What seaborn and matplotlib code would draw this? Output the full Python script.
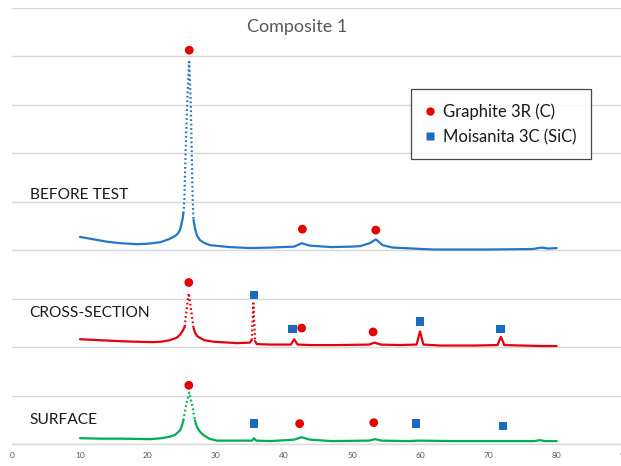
import matplotlib
matplotlib.use("Agg")
import matplotlib.pyplot as plt
import seaborn as sns
from matplotlib.lines import Line2D

# ---- diffraction profiles (2θ in degrees, offset intensity in grid units) ----
# BEFORE TEST
before_x_left = [10, 12, 14, 16, 18.4, 20, 21.8, 23.2, 24.0, 24.4, 24.7, 24.9, 25.1, 25.2]
before_y_left = [4.27, 4.22, 4.17, 4.14, 4.12, 4.13, 4.16, 4.23, 4.29, 4.34, 4.41, 4.52, 4.65, 4.76]
before_x_peak = [25.2, 25.35, 25.54, 25.78, 26.05, 26.28, 26.42, 26.57, 26.7]
before_y_peak = [4.76, 5.04, 6.07, 7.09, 7.88, 7.09, 6.07, 5.04, 4.62]
before_x_right = [26.7, 26.9, 27.2, 27.6, 28.2, 29.1, 32.0, 35.0, 38, 41.5, 42.6, 43.8, 47.0,
                  50, 51.2, 52.6, 53.5, 54.5, 56.0, 62.0, 70, 76.6, 77.9, 78.8, 80.1]
before_y_right = [4.62, 4.45, 4.30, 4.21, 4.15, 4.10, 4.06, 4.04, 4.05, 4.07, 4.14, 4.09, 4.06,
                  4.07, 4.08, 4.14, 4.22, 4.10, 4.05, 4.01, 4.01, 4.02, 4.05, 4.03, 4.04]

# CROSS-SECTION
cross_x_left = [10, 13, 15.9, 18, 20.7, 22, 23.2, 24.2, 24.7, 25.0, 25.2, 25.4]
cross_y_left = [2.16, 2.14, 2.12, 2.11, 2.10, 2.11, 2.14, 2.19, 2.25, 2.31, 2.36, 2.42]
cross_x_peak1 = [25.4, 25.7, 26.0, 26.3, 26.7]
cross_y_peak1 = [2.42, 2.80, 3.11, 2.80, 2.39]
cross_x_mid = [26.7, 26.9, 27.2, 27.6, 28.3, 29.6, 33.1, 35.0, 35.25]
cross_y_mid = [2.39, 2.30, 2.23, 2.19, 2.14, 2.11, 2.08, 2.09, 2.14]
cross_x_peak2 = [35.25, 35.5, 35.75]
cross_y_peak2 = [2.14, 2.90, 2.12]
cross_x_right = [35.75, 36.0, 38, 41.0, 41.5, 42.0, 44, 48, 52.5, 53.3, 54.2, 57, 59.5,
                 60.0, 60.5, 63, 68, 71.4, 71.9, 72.4, 75, 78, 80.1]
cross_y_right = [2.12, 2.06, 2.05, 2.05, 2.16, 2.05, 2.04, 2.04, 2.05, 2.09, 2.05, 2.04, 2.05,
                 2.32, 2.05, 2.03, 2.03, 2.04, 2.21, 2.04, 2.03, 2.02, 2.02]

# SURFACE
surf_x_left = [10, 13, 16, 20.3, 22, 23.2, 24.0, 24.7, 25.0, 25.2]
surf_y_left = [0.12, 0.11, 0.11, 0.10, 0.12, 0.15, 0.19, 0.28, 0.38, 0.49]
surf_x_peak = [25.2, 25.6, 26.07, 26.5, 26.9]
surf_y_peak = [0.49, 0.80, 1.06, 0.80, 0.49]
surf_x_right = [26.9, 27.2, 27.6, 28.1, 29.0, 30.1, 33, 35.3, 35.6, 35.9, 38, 41.5, 42.6,
                43.8, 47, 52.5, 53.4, 54.3, 58, 60, 65, 72, 76.8, 77.6, 78.4, 80.1]
surf_y_right = [0.49, 0.35, 0.26, 0.19, 0.11, 0.07, 0.07, 0.07, 0.12, 0.07, 0.06, 0.09, 0.14,
                0.09, 0.06, 0.07, 0.10, 0.07, 0.06, 0.07, 0.06, 0.06, 0.06, 0.08, 0.06, 0.06]

# ---- phase markers ----
graphite_x = [26.07, 42.7, 53.5, 26.0, 42.6, 53.1, 26.0, 42.3, 53.2]
graphite_y = [8.12, 4.43, 4.41, 3.33, 2.39, 2.31, 1.21, 0.42, 0.44]
sic_x = [35.6, 41.2, 60.0, 71.8, 35.6, 59.4, 72.2]
sic_y = [3.07, 2.37, 2.52, 2.37, 0.43, 0.43, 0.37]

sample_labels = ["BEFORE TEST", "CROSS-SECTION", "SURFACE"]
sample_label_y = [5.14, 2.71, 0.49]
legend_labels = ["Graphite 3R (C)", "Moisanita 3C (SiC)"]
x_ticks = list(range(0, 100, 10))

BLUE = "#2277C9"
RED = "#E8000B"
GREEN = "#00B050"
DOT_RED = "#E60000"
SQ_BLUE = "#1A6AC0"
GRID = "#D9D9D9"
TXT = "#595959"

sns.set_style("white")
plt.rcParams["font.family"] = ["Lato", "DejaVu Sans"]

fig = plt.figure(figsize=(6.21, 4.66), dpi=100)
ax = fig.add_axes([12 / 621, 22 / 466, 612 / 621, 436.5 / 466])


def draw_solid(xs, ys, color):
    sns.lineplot(x=xs, y=ys, color=color, linewidth=1.6, legend=False, ax=ax,
                 estimator=None, sort=False)


def draw_dotted(xs, ys, color):
    sns.lineplot(x=xs, y=ys, color=color, linestyle=(0, (0.8, 1.2)),
                 linewidth=1.6, legend=False, ax=ax, estimator=None, sort=False)


draw_solid(before_x_left, before_y_left, BLUE)
draw_dotted(before_x_peak, before_y_peak, BLUE)
draw_solid(before_x_right, before_y_right, BLUE)

draw_solid(cross_x_left, cross_y_left, RED)
draw_dotted(cross_x_peak1, cross_y_peak1, RED)
draw_solid(cross_x_mid, cross_y_mid, RED)
draw_dotted(cross_x_peak2, cross_y_peak2, RED)
draw_solid(cross_x_right, cross_y_right, RED)

draw_solid(surf_x_left, surf_y_left, GREEN)
draw_dotted(surf_x_peak, surf_y_peak, GREEN)
draw_solid(surf_x_right, surf_y_right, GREEN)

sns.scatterplot(x=graphite_x, y=graphite_y, color=DOT_RED, marker="o", s=40,
                edgecolor="none", ax=ax, legend=False, zorder=5)
sns.scatterplot(x=sic_x, y=sic_y, color=SQ_BLUE, marker="s", s=40,
                edgecolor="none", ax=ax, legend=False, zorder=5)

for label, ly in zip(sample_labels, sample_label_y):
    ax.text(2.6, ly, label, fontsize=11.2, color="#1a1a1a", va="center", ha="left")

ax.set_xlim(0, 90)
ax.set_ylim(0, 9)
ax.set_xticks(x_ticks)
ax.set_xticklabels([str(t) for t in x_ticks], fontsize=6, color=TXT)
ax.set_yticks(range(0, 10))
ax.set_yticklabels([])
ax.tick_params(length=0, pad=6)
ax.grid(axis="y", color=GRID, linewidth=1)
ax.grid(axis="x", visible=False)
for side in ["left", "right", "top"]:
    ax.spines[side].set_visible(False)
ax.spines["bottom"].set_color(GRID)
ax.spines["bottom"].set_linewidth(1)
ax.set_xlabel("")
ax.set_ylabel("")

fig.text(297 / 621, 1 - 27 / 466, "Composite 1", fontsize=13, color=TXT,
         ha="center", va="center")

handles = [
    Line2D([], [], marker="o", color="none", markerfacecolor=DOT_RED,
           markeredgecolor="none", markersize=6),
    Line2D([], [], marker="s", color="none", markerfacecolor=SQ_BLUE,
           markeredgecolor="none", markersize=6),
]
leg = fig.legend(handles, legend_labels, loc="upper left",
                 bbox_to_anchor=(410.5 / 621, 1 - 89 / 466), fontsize=12.0,
                 frameon=True, fancybox=False, edgecolor="#1a1a1a",
                 handlelength=0.6, handletextpad=0.5, borderpad=0.85,
                 labelspacing=0.55, borderaxespad=0)
leg.get_frame().set_linewidth(0.9)
for t in leg.get_texts():
    t.set_color("#1a1a1a")

fig.savefig("out.png", dpi=100)
